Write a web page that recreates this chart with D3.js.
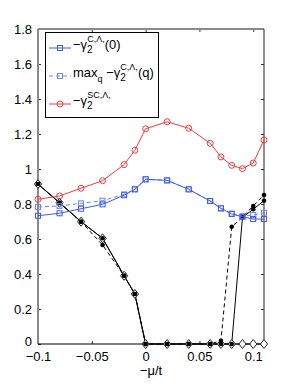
<!DOCTYPE html>
<html>
<head>
<meta charset="utf-8">
<script src="https://cdn.jsdelivr.net/npm/d3@7"></script>
<style>
  body { margin: 0; background: #fff; }
  text { font-family: "Liberation Sans", Arial, sans-serif; }
</style>
</head>
<body>
<div id="chart"></div>
<script>
// -mu/t values
const xs = [-0.1, -0.08, -0.06, -0.04, -0.02, -0.01, 0, 0.02, 0.04, 0.06, 0.07, 0.08, 0.09, 0.1, 0.11];

// series
const gammaSC   = [0.827, 0.846, 0.89, 0.933, 1.025, 1.107, 1.23, 1.27, 1.233, 1.147, 1.069, 1.021, 1.002, 1.034, 1.166];
const gammaC0   = [0.733, 0.747, 0.773, 0.798, 0.85, 0.884, 0.941, 0.935, 0.884, 0.817, 0.775, 0.743, 0.727, 0.714, 0.714];
const gammaCmax = [0.783, 0.789, 0.804, 0.819, 0.855, 0.884, 0.941, 0.935, 0.884, 0.817, 0.775, 0.745, 0.73, 0.737, 0.75];
const blackSolid  = [0.914, 0.807, 0.699, 0.604, 0.39, 0.286, 0, 0, 0, 0, 0, 0, 0.724, 0.77, 0.819];
const blackDashed = [0.914, 0.807, 0.699, 0.566, 0.39, 0.286, 0, 0, 0, 0, 0.019, 0.67, 0.724, 0.789, 0.851];
const blackDiamond = [0.914, 0.807, 0.699, 0.604, 0.39, 0.286, 0, 0, 0, 0, 0, 0, 0, 0, 0];

const xTicks = [-0.1, -0.05, 0, 0.05, 0.1];
const yTicks = [0, 0.2, 0.4, 0.6, 0.8, 1, 1.2, 1.4, 1.6, 1.8];

const width = 291, height = 387;
const margin = {left: 38, right: 27, top: 29, bottom: 43};

const svg = d3.select("#chart").append("svg")
  .attr("width", width).attr("height", height);

const x = d3.scaleLinear().domain([-0.1, 0.11]).range([margin.left, width - margin.right]);
const y = d3.scaleLinear().domain([0, 1.8]).range([height - margin.bottom, margin.top]);

const red = "#f03c3c", blue = "#3c5af0", blueLight = "#6a86f5";

// axes box (MATLAB style, ticks inward)
const x0 = x.range()[0], x1 = x.range()[1], y0 = y.range()[0], y1 = y.range()[1];
const axes = svg.append("g");

const fmtX = d => d === 0 ? "0" : d3.format("")(d).replace("-", "\u2212");

axes.append("g")
  .attr("transform", `translate(0,${y0})`)
  .call(d3.axisBottom(x).tickValues(xTicks).tickSizeInner(-3).tickSizeOuter(0).tickPadding(8).tickFormat(fmtX))
  .call(g => g.select(".domain").remove())
  .call(g => g.selectAll("text").attr("font-size", 13).attr("fill", "#000"));

axes.append("g")
  .attr("transform", `translate(0,${y1})`)
  .call(d3.axisTop(x).tickValues(xTicks).tickSizeInner(-3).tickSizeOuter(0).tickFormat(""))
  .call(g => g.select(".domain").remove());

axes.append("g")
  .attr("transform", `translate(${x0},0)`)
  .call(d3.axisLeft(y).tickValues(yTicks).tickSizeInner(-3).tickSizeOuter(0).tickPadding(6).tickFormat(d => d3.format("")(d)))
  .call(g => g.select(".domain").remove())
  .call(g => g.selectAll("text").attr("font-size", 13).attr("fill", "#000"))
  .call(g => g.selectAll(".tick").filter(d => d === 0).select("text").attr("dy", "0.1em"));

axes.append("g")
  .attr("transform", `translate(${x1},0)`)
  .call(d3.axisRight(y).tickValues(yTicks).tickSizeInner(-3).tickSizeOuter(0).tickFormat(""))
  .call(g => g.select(".domain").remove());

axes.selectAll(".tick line").attr("stroke", "#333");

// frame lines
axes.append("line").attr("x1", x0).attr("x2", x0).attr("y1", y1).attr("y2", y0)
  .attr("stroke", "#8a8a8a").attr("stroke-width", 2);
axes.append("line").attr("x1", x0).attr("x2", x1).attr("y1", y1).attr("y2", y1)
  .attr("stroke", "#8a8a8a").attr("stroke-width", 2);
axes.append("line").attr("x1", x1).attr("x2", x1).attr("y1", y1).attr("y2", y0)
  .attr("stroke", "#222").attr("stroke-width", 1);

svg.append("text")
  .attr("x", (x0 + x1) / 2).attr("y", 375)
  .attr("text-anchor", "middle").attr("font-size", 13)
  .text("\u2212\u03bc/t");

const line = d3.line().x(d => x(d[0])).y(d => y(d[1]));
const pts = vals => xs.map((v, i) => [v, vals[i]]);

const diamond = (cx, cy) => `M${cx},${cy - 4.5}L${cx + 3.6},${cy}L${cx},${cy + 4.5}L${cx - 3.6},${cy}Z`;

// black series
svg.append("path").datum(pts(blackDiamond)).attr("d", line)
  .attr("fill", "none").attr("stroke", "#000").attr("stroke-width", 1);
svg.append("path").datum(pts(blackSolid)).attr("d", line)
  .attr("fill", "none").attr("stroke", "#000").attr("stroke-width", 1);
svg.append("path").datum(pts(blackDashed)).attr("d", line)
  .attr("fill", "none").attr("stroke", "#000").attr("stroke-width", 1).attr("stroke-dasharray", "4,3");
svg.append("line").attr("x1", x0).attr("x2", x1).attr("y1", y0).attr("y2", y0)
  .attr("stroke", "#000").attr("stroke-width", 1.2);

svg.append("g").selectAll("path").data(pts(blackDiamond)).join("path")
  .attr("d", d => diamond(x(d[0]), y(d[1])))
  .attr("fill", "#fff").attr("stroke", "#222").attr("stroke-width", 1);

svg.append("g").selectAll("circle").data(pts(blackSolid).concat(pts(blackDashed))).join("circle")
  .attr("cx", d => x(d[0])).attr("cy", d => y(d[1])).attr("r", 2.3).attr("fill", "#000");

// blue series
svg.append("path").datum(pts(gammaCmax)).attr("d", line)
  .attr("fill", "none").attr("stroke", blueLight).attr("stroke-width", 1).attr("stroke-dasharray", "4,3");
svg.append("path").datum(pts(gammaC0)).attr("d", line)
  .attr("fill", "none").attr("stroke", blue).attr("stroke-width", 1);
svg.append("g").selectAll("rect").data(pts(gammaCmax)).join("rect")
  .attr("x", d => x(d[0]) - 2.5).attr("y", d => y(d[1]) - 2.5).attr("width", 5).attr("height", 5)
  .attr("fill", "none").attr("stroke", blueLight).attr("stroke-width", 1);
svg.append("g").selectAll("rect").data(pts(gammaC0)).join("rect")
  .attr("x", d => x(d[0]) - 2.5).attr("y", d => y(d[1]) - 2.5).attr("width", 5).attr("height", 5)
  .attr("fill", "none").attr("stroke", blue).attr("stroke-width", 1);

// red series
svg.append("path").datum(pts(gammaSC)).attr("d", line)
  .attr("fill", "none").attr("stroke", red).attr("stroke-width", 1);
svg.append("g").selectAll("circle").data(pts(gammaSC)).join("circle")
  .attr("cx", d => x(d[0])).attr("cy", d => y(d[1])).attr("r", 3)
  .attr("fill", "none").attr("stroke", red).attr("stroke-width", 1);

// legend
const lg = svg.append("g");
lg.append("rect").attr("x", 45.5).attr("y", 32.5).attr("width", 113).attr("height", 85)
  .attr("fill", "#fff").attr("stroke", "#000").attr("stroke-width", 1);

const entries = [
  {y: 48, color: blue, dash: null, mark: "sq", pre: "", post: "(0)", sup: "C,\u039b,"},
  {y: 76, color: blueLight, dash: "4,3", mark: "sq", pre: "max", post: "(q)", sup: "C,\u039b,"},
  {y: 104, color: red, dash: null, mark: "ci", pre: "", post: "", sup: "SC,\u039b,"}
];

entries.forEach(e => {
  lg.append("line").attr("x1", 49).attr("x2", 71).attr("y1", e.y).attr("y2", e.y)
    .attr("stroke", e.color).attr("stroke-width", 1).attr("stroke-dasharray", e.dash);
  if (e.mark === "sq") {
    lg.append("rect").attr("x", 57.5).attr("y", e.y - 2.5).attr("width", 5).attr("height", 5)
      .attr("fill", "none").attr("stroke", e.color);
  } else {
    lg.append("circle").attr("cx", 60).attr("cy", e.y).attr("r", 3)
      .attr("fill", "none").attr("stroke", e.color);
  }
  const t = lg.append("text").attr("x", 73).attr("y", e.y + 1).attr("font-size", 13);
  if (e.pre) {
    t.append("tspan").text(e.pre);
    t.append("tspan").attr("dy", 5).attr("font-size", 9).text("q");
    t.append("tspan").attr("dy", -5).text(" \u2212\u03b3");
  } else {
    t.append("tspan").text("\u2212\u03b3");
  }
  t.append("tspan").attr("dy", 4).attr("font-size", 10).text("2");
  t.append("tspan").attr("dx", -5.5).attr("dy", -11).attr("font-size", 9).text(e.sup);
  if (e.post) t.append("tspan").attr("dy", 7).text(e.post);
});
</script>
</body>
</html>
